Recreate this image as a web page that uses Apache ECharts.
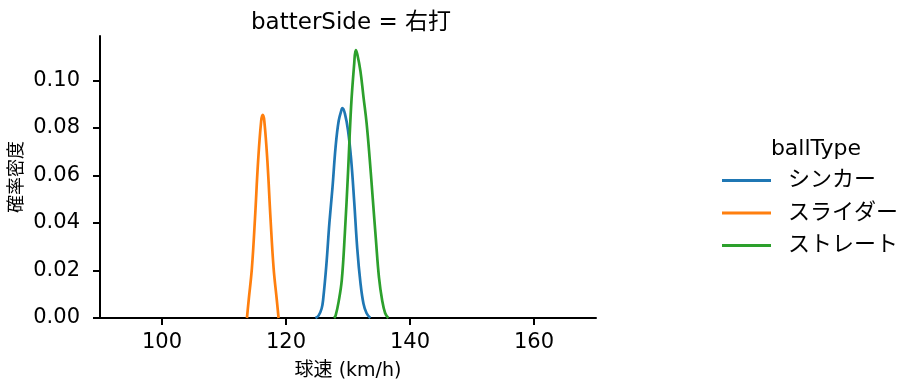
<!DOCTYPE html>
<html>
<head>
<meta charset="utf-8">
<script src="https://cdn.jsdelivr.net/npm/echarts@6/dist/echarts.min.js"></script>
<style>html,body{margin:0;padding:0;background:#fff}#c{width:921px;height:391px}</style>
</head>
<body>
<div id="c"></div>
<script>
const seriesNames = ['シンカー', 'スライダー', 'ストレート'];
const colors = ['#1f77b4', '#ff7f0e', '#2ca02c'];
// [球速, 確率密度] pairs
const sinkerX = [124.75,125.25,125.75,126.0,126.5,127.0,127.5,128.0,128.5,129.0,129.1,129.5,130.0,130.5,131.0,131.5,132.0,132.5,133.0,133.6];
const sinkerY = [0,0.001,0.004,0.008,0.022,0.040,0.055,0.072,0.083,0.088,0.0883,0.086,0.079,0.067,0.049,0.029,0.015,0.006,0.002,0];
const sliderX = [113.7,114.0,114.5,115.0,115.5,116.0,116.25,116.5,117.0,117.5,118.0,118.5,118.8];
const sliderY = [0,0.008,0.021,0.042,0.066,0.083,0.0855,0.083,0.066,0.042,0.021,0.008,0];
const fastX = [127.75,128.0,128.5,129.0,129.5,130.0,130.5,131.0,131.25,131.5,132.0,132.5,133.0,133.5,134.0,134.5,135.0,135.5,136.0,136.5];
const fastY = [0,0.001,0.007,0.016,0.036,0.061,0.089,0.107,0.1128,0.111,0.104,0.093,0.082,0.067,0.050,0.033,0.017,0.0076,0.002,0];
const xTicks = [100, 120, 140, 160];
const yTicks = [0, 0.02, 0.04, 0.06, 0.08, 0.10];

const F = '"DejaVu Sans", "Noto Sans CJK JP", sans-serif';
const pairs = (xs, ys) => xs.map((x, i) => [x, ys[i]]);
const data = [pairs(sinkerX, sinkerY), pairs(sliderX, sliderY), pairs(fastX, fastY)];

const chart = echarts.init(document.getElementById('c'));
chart.setOption({
  animation: false,
  backgroundColor: '#fff',
  title: [
    { text: 'batterSide = 右打', left: 346, top: 7, textAlign: 'center',
      textStyle: { fontFamily: F, fontSize: 23, fontWeight: 'normal', color: '#000' } },
    { text: 'ballType', left: 811, top: 133, textAlign: 'center',
      textStyle: { fontFamily: F, fontSize: 22, fontWeight: 'normal', color: '#000' } }
  ],
  legend: {
    orient: 'vertical', left: 717, top: 164.5, itemWidth: 49, itemHeight: 3, itemGap: 10.5,
    icon: 'rect', data: seriesNames,
    textStyle: { fontFamily: F, fontSize: 22, color: '#000', padding: [0, 0, 0, 12] }
  },
  grid: { left: 100, right: 325, top: 36, bottom: 73, containLabel: false, outerBoundsMode: 'none' },
  xAxis: {
    type: 'value', min: 90, max: 170, interval: 10,
    name: '球速 (km/h)', nameLocation: 'middle', nameGap: 44, nameMoveOverlap: false,
    nameTextStyle: { fontFamily: F, fontSize: 19, color: '#000' },
    axisLine: { onZero: false, lineStyle: { color: '#000', width: 2 } },
    axisTick: { length: 7, lineStyle: { color: '#000', width: 2 }, customValues: xTicks },
    axisLabel: { fontFamily: F, fontSize: 21, color: '#000', margin: 14, customValues: xTicks },
    splitLine: { show: false }
  },
  yAxis: {
    type: 'value', min: 0, max: 0.1187,
    name: '確率密度', nameLocation: 'middle', nameGap: 74, nameRotate: 90, nameMoveOverlap: false,
    nameTextStyle: { fontFamily: F, fontSize: 18, color: '#000' },
    axisLine: { show: true, lineStyle: { color: '#000', width: 2 } },
    axisTick: { show: true, length: 7, lineStyle: { color: '#000', width: 2 }, customValues: yTicks },
    axisLabel: { fontFamily: F, fontSize: 21, color: '#000', margin: 20, customValues: yTicks,
      formatter: v => v.toFixed(2) },
    splitLine: { show: false }
  },
  series: seriesNames.map((n, i) => ({
    name: n, type: 'line', data: data[i], smooth: 0.4, showSymbol: false,
    lineStyle: { color: colors[i], width: 2.7 }, itemStyle: { color: colors[i] }
  }))
});
</script>
</body>
</html>
